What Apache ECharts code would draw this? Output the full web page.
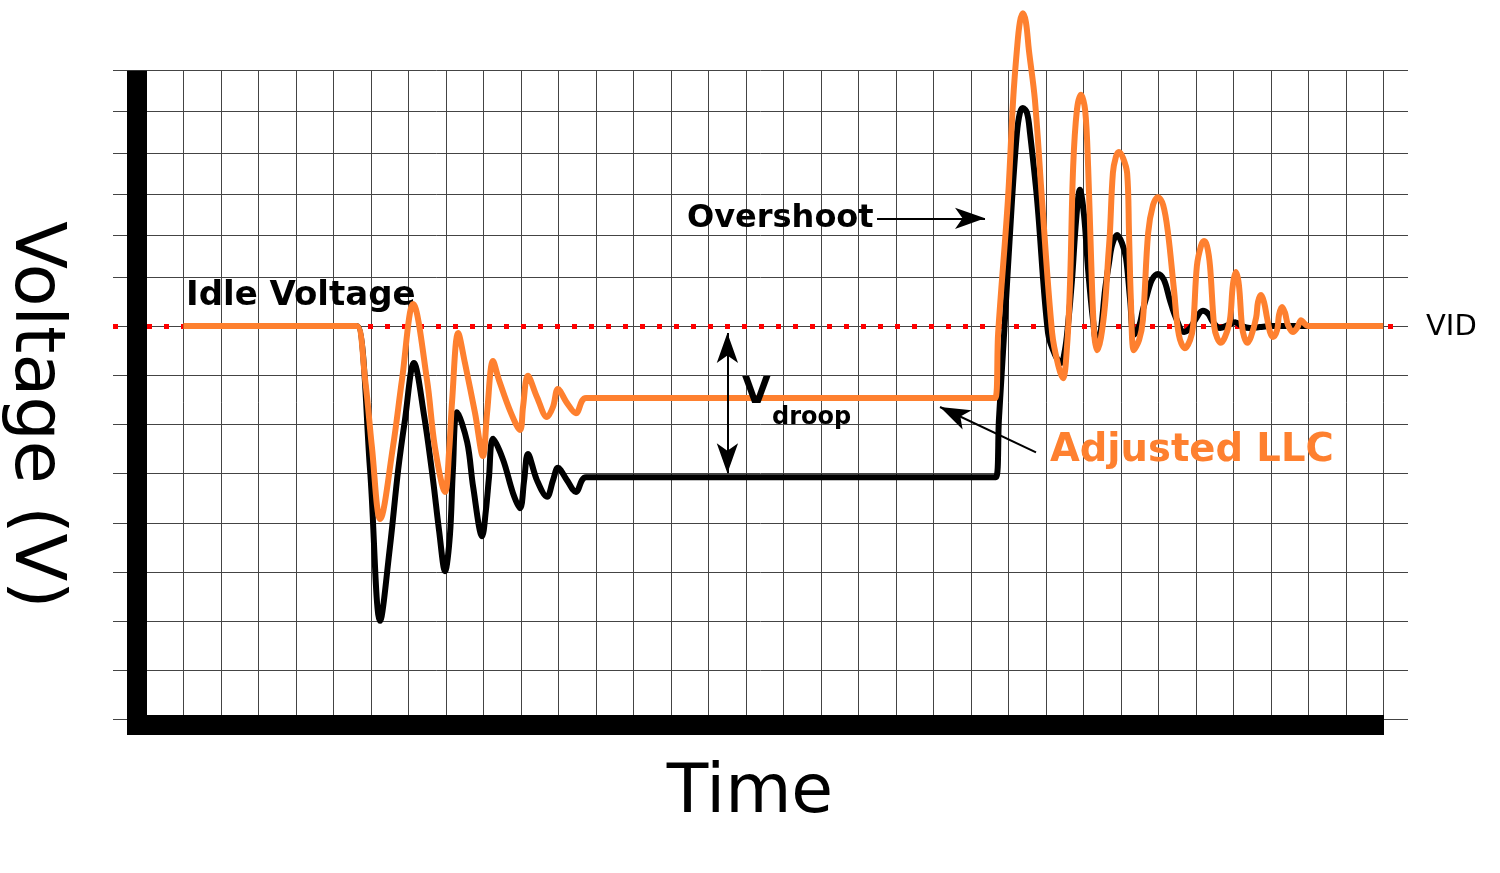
<!DOCTYPE html>
<html><head><meta charset="utf-8">
<script src="https://cdn.jsdelivr.net/npm/echarts@6/dist/echarts.min.js"></script>
<style>html,body{margin:0;padding:0;background:#fff}#c{width:1500px;height:873px}</style>
</head><body><div id="c"></div>
<script>
// time axis: one unit = one grid column; voltage axis: 0 = VID, one unit = one grid row below VID
const timeGridTicks = [0,1,2,3,4,5,6,7,8,9,10,11,12,13,14,15,16,17,18,19,20,21,22,23,24,25,26,27,28,29,30,31,32,33];
const voltGridTicks = [-8,-7,-6,-5,-4,-3,-2,-1,0,1,1.85,2.68,3.51,4.36,5.19];
const vidLevel = 0;

// black: standard load-line response
const standardLLC = [[1.00,0],[5.37,0],[5.63,0],[5.98,-2.92],[6.25,-5.99],[6.51,-4.49],[6.73,-2.92],[6.91,-1.91],[7.15,-0.75],[7.42,-1.81],[7.66,-3.13],[7.82,-4.15],[7.98,-4.98],[8.11,-4.25],[8.19,-2.92],[8.30,-1.75],[8.57,-2.36],[8.73,-3.27],[8.97,-4.27],[9.07,-3.74],[9.15,-3.09],[9.26,-2.29],[9.53,-2.72],[9.79,-3.39],[9.98,-3.70],[10.09,-3.13],[10.19,-2.60],[10.43,-3.13],[10.70,-3.47],[10.86,-3.13],[10.99,-2.88],[11.23,-3.13],[11.47,-3.37],[11.74,-3.07],[22.40,-3.07],[22.67,-3.07],[22.75,-1.91],[22.89,-0.14],[23.10,2.56],[23.23,3.92],[23.31,4.33],[23.39,4.43],[23.50,4.33],[23.58,3.92],[23.77,2.56],[24.06,-0.14],[24.25,-0.59],[24.41,-0.75],[24.51,-0.49],[24.59,0],[24.70,0.94],[24.81,2.16],[24.91,2.77],[25.02,2.26],[25.13,1.14],[25.26,0.12],[25.37,-0.40],[25.47,-0.08],[25.58,0.73],[25.69,1.30],[25.77,1.65],[25.90,1.85],[26.03,1.69],[26.14,1.38],[26.25,0.53],[26.35,-0.18],[26.49,0],[26.59,0.33],[26.70,0.63],[26.83,0.94],[26.99,1.06],[27.15,0.94],[27.31,0.53],[27.47,0.17],[27.69,-0.12],[27.85,-0.04],[27.98,0.12],[28.19,0.31],[28.33,0.25],[28.46,0.08],[28.65,-0.04],[28.86,0.02],[29.05,0.08],[29.23,0],[29.45,-0.04],[29.71,-0.02],[29.98,0],[33.00,0]];

// orange: adjusted LLC response
const adjustedLLC = [[1.00,0],[5.37,0],[5.63,0],[5.85,-1.10],[6.03,-2.46],[6.25,-3.92],[6.59,-2.46],[6.83,-1.10],[7.13,0.45],[7.50,-1.10],[7.71,-2.46],[7.98,-3.37],[8.09,-2.52],[8.17,-1.50],[8.33,-0.14],[8.51,-0.75],[8.78,-1.77],[8.99,-2.64],[9.10,-1.77],[9.26,-0.71],[9.42,-1.10],[9.74,-1.77],[9.98,-2.11],[10.06,-1.64],[10.19,-1.01],[10.43,-1.44],[10.70,-1.85],[10.86,-1.64],[10.99,-1.28],[11.23,-1.56],[11.47,-1.77],[11.74,-1.46],[22.39,-1.46],[22.65,-1.46],[22.73,-0.14],[22.99,2.56],[23.13,4.60],[23.23,5.61],[23.31,6.18],[23.39,6.36],[23.47,6.18],[23.55,5.61],[23.71,4.60],[23.90,2.56],[24.17,-0.14],[24.33,-0.79],[24.46,-1.06],[24.57,-0.38],[24.65,0.94],[24.73,3.23],[24.83,4.39],[24.94,4.70],[25.05,4.39],[25.13,3.23],[25.21,1.34],[25.29,-0.14],[25.37,-0.49],[25.47,-0.24],[25.58,0.43],[25.66,1.34],[25.71,1.89],[25.79,3.11],[25.87,3.44],[25.95,3.54],[26.06,3.42],[26.17,3.11],[26.22,1.89],[26.27,0.53],[26.35,-0.49],[26.49,-0.28],[26.59,0.12],[26.73,1.89],[26.86,2.46],[26.99,2.62],[27.13,2.46],[27.26,1.89],[27.42,0.73],[27.55,-0.18],[27.71,-0.45],[27.85,-0.28],[27.93,0],[28.03,1.22],[28.14,1.63],[28.22,1.73],[28.30,1.63],[28.38,1.22],[28.49,0],[28.57,-0.24],[28.67,-0.34],[28.78,-0.22],[28.91,0.12],[28.99,0.84],[29.07,1.10],[29.15,0.84],[29.23,0.02],[29.29,-0.22],[29.37,-0.34],[29.47,-0.22],[29.61,0.17],[29.66,0.49],[29.74,0.63],[29.82,0.49],[29.90,0.17],[29.98,-0.12],[30.06,-0.22],[30.17,-0.08],[30.22,0.23],[30.30,0.39],[30.38,0.27],[30.46,0.02],[30.59,-0.12],[30.70,-0.04],[30.81,0.12],[30.89,0.06],[30.99,0],[33.00,0]];

// annotation anchors (data units)
const vidSpan = [-0.875, 33.45];
const overshootArrow = [[19.50, 2.19], [22.38, 2.19]];
const vdroopArrow = [[15.51, -0.14], [15.51, -2.99]];
const llcArrow = [[23.74, -2.565], [21.18, -1.644]];
const axisBarLeft = [[-0.235, 5.19], [-0.235, -8.31]];
const axisBarBottom = [[-0.50, -8.106], [33.02, -8.106]];

const ORANGE = '#fe802f';
const chart = echarts.init(document.getElementById('c'), null, {renderer: 'canvas'});
const FONT = 'DejaVu Sans';
function txt(text, x, y, size, opts) {
  opts = opts || {};
  return {
    type: 'text', x: x, y: y, z: opts.z == null ? 10 : opts.z, rotation: opts.rotation || 0, silent: true,
    style: {
      text: text, fill: opts.color || '#000', align: opts.align || 'left', verticalAlign: 'middle',
      font: (opts.bold ? 'bold ' : '') + size + 'px "' + FONT + '"'
    }
  };
}
const seg = (p, q) => [{coord: p}, {coord: q}];

chart.setOption({
  animation: false,
  backgroundColor: '#fff',
  grid: {left: 113, right: 92, top: 70.7, bottom: 138, containLabel: false},
  xAxis: {
    type: 'value', min: -0.875, max: 33.66,
    axisLine: {show: false}, axisLabel: {show: false},
    axisTick: {show: false, customValues: timeGridTicks},
    splitLine: {show: true, lineStyle: {color: '#444', width: 1}}
  },
  yAxis: {
    type: 'value', min: -8.31, max: 5.19,
    axisLine: {show: false}, axisLabel: {show: false},
    axisTick: {show: false, customValues: voltGridTicks},
    splitLine: {show: true, lineStyle: {color: '#444', width: 1}}
  },
  series: [
    {
      type: 'line', data: [], z: 1, silent: true, clip: false,
      markLine: {
        z: 1, silent: true, symbol: ['none', 'none'], label: {show: false}, animation: false,
        lineStyle: {color: '#ff0000', width: 5, type: [5, 12], cap: 'butt'},
        emphasis: {disabled: true},
        data: [seg([vidSpan[0], vidLevel], [vidSpan[1], vidLevel])]
      }
    },
    {
      name: 'Standard', type: 'line', data: standardLLC, smooth: 0.35, showSymbol: false, symbol: 'none',
      clip: false, z: 2, silent: true,
      lineStyle: {color: '#000', width: 6, join: 'round'}
    },
    {
      name: 'Adjusted LLC', type: 'line', data: adjustedLLC, smooth: 0.35, showSymbol: false, symbol: 'none',
      clip: false, z: 3, silent: true,
      lineStyle: {color: ORANGE, width: 6, join: 'round'}
    },
    {
      type: 'line', data: [], z: 5, silent: true, clip: false,
      markLine: {
        z: 5, silent: true, symbol: ['none', 'none'], label: {show: false}, animation: false,
        emphasis: {disabled: true},
        lineStyle: {color: '#000', width: 20, type: 'solid', cap: 'butt'},
        data: [seg(axisBarLeft[0], axisBarLeft[1]), seg(axisBarBottom[0], axisBarBottom[1])]
      }
    },
    {
      type: 'line', data: [], z: 6, silent: true, clip: false,
      markLine: {
        z: 6, silent: true, symbol: ['none', 'arrow'], symbolSize: [16, 30], label: {show: false}, animation: false,
        emphasis: {disabled: true},
        lineStyle: {color: '#000', width: 2, type: 'solid'},
        data: [
          seg(overshootArrow[0], overshootArrow[1]),
          seg(llcArrow[0], llcArrow[1]),
          [{coord: vdroopArrow[0], symbol: 'arrow'}, {coord: vdroopArrow[1], symbol: 'arrow'}]
        ]
      }
    }
  ],
  graphic: [
    txt('Idle Voltage', 186, 296, 34, {bold: true, z: 1}),
    txt('Overshoot', 687, 219, 32, {bold: true}),
    txt('V', 742, 393, 37, {bold: true}),
    txt('droop', 772, 418, 24, {bold: true}),
    txt('Adjusted LLC', 1050, 451, 38.5, {bold: true, color: ORANGE}),
    txt('VID', 1426, 327, 29, {}),
    txt('Time', 750, 794, 68, {align: 'center'}),
    txt('Voltage (V)', 34, 415, 70, {align: 'center', rotation: -Math.PI / 2})
  ]
});
</script>
</body></html>
